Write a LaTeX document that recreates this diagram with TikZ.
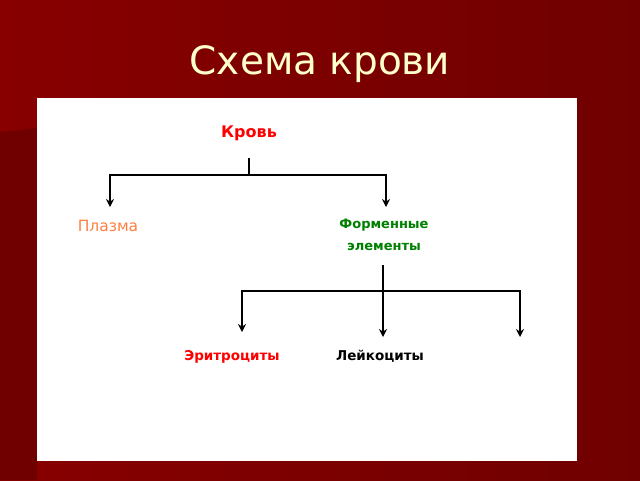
\documentclass[tikz,border=0pt]{standalone}
\usepackage{fontspec}
\setmainfont{DejaVu Sans}
\usepackage{tikz}
\usetikzlibrary{arrows.meta,positioning}
\definecolor{bgred}{RGB}{136,0,0}
\definecolor{bgdark}{RGB}{112,0,0}
\definecolor{titlecream}{RGB}{255,255,204}
\definecolor{dfred}{RGB}{255,0,0}
\definecolor{dforange}{RGB}{255,128,64}
\definecolor{dfgreen}{RGB}{0,128,0}
\tikzstyle{conn} = [line width=2pt,color=black]
\tikzstyle{arrow} = [line width=2pt,-{Stealth[length=8pt,width=8pt]},color=black]
\tikzstyle{lbl} = [font=\fontsize{13.5}{16}\selectfont\bfseries, inner sep=0pt]
\begin{document}
\begin{tikzpicture}[x=1pt,y=-1pt]
\useasboundingbox (0,0) rectangle (640,480);
% Background
\shade[left color=bgred, right color=bgdark] (0,0) rectangle (640,480);
\fill[bgdark] (0,132) -- (37,128) -- (37,480) -- (0,480) -- cycle;
\fill[white] (37,98) rectangle (577,461);

% Title
\node[font=\fontsize{39}{46}\selectfont, text=titlecream] (title) at (320,64) {Схема крови};

% Labels
\node[lbl, text=dfred, font=\fontsize{16}{19}\selectfont\bfseries] (krov) at (249,133) {Кровь};
\node[lbl, text=dforange, font=\fontsize{15.5}{19}\selectfont] (plazma) at (108,226) {Плазма};
\node[lbl, text=dfgreen, align=center, font=\fontsize{13}{22}\selectfont\bfseries] (formel) at (384,235) {Форменные\\элементы};
\node[lbl, text=dfred] (eritro) at (232,357) {Эритроциты};
\node[lbl, text=black] (leiko) at (380,356) {Лейкоциты};

% Junctions
\coordinate (k0) at (249,158);
\coordinate (k1) at (249,175);
\coordinate (pa) at (110,207);
\coordinate (fa) at (386,207);
\coordinate (f0) at (383,265);
\coordinate (f1) at (383,291);
\coordinate (ea) at (242,332);
\coordinate (la) at (383,337);
\coordinate (xa) at (520,337);

% Arrows
\draw[conn] (k0) -- (k1);
\draw[arrow] (k1) -| (pa);
\draw[arrow] (k1) -| (fa);
\draw[arrow] (f0) -- (la);
\draw[arrow] (f1) -| (ea);
\draw[arrow] (f1) -| (xa);
\end{tikzpicture}
\end{document}
